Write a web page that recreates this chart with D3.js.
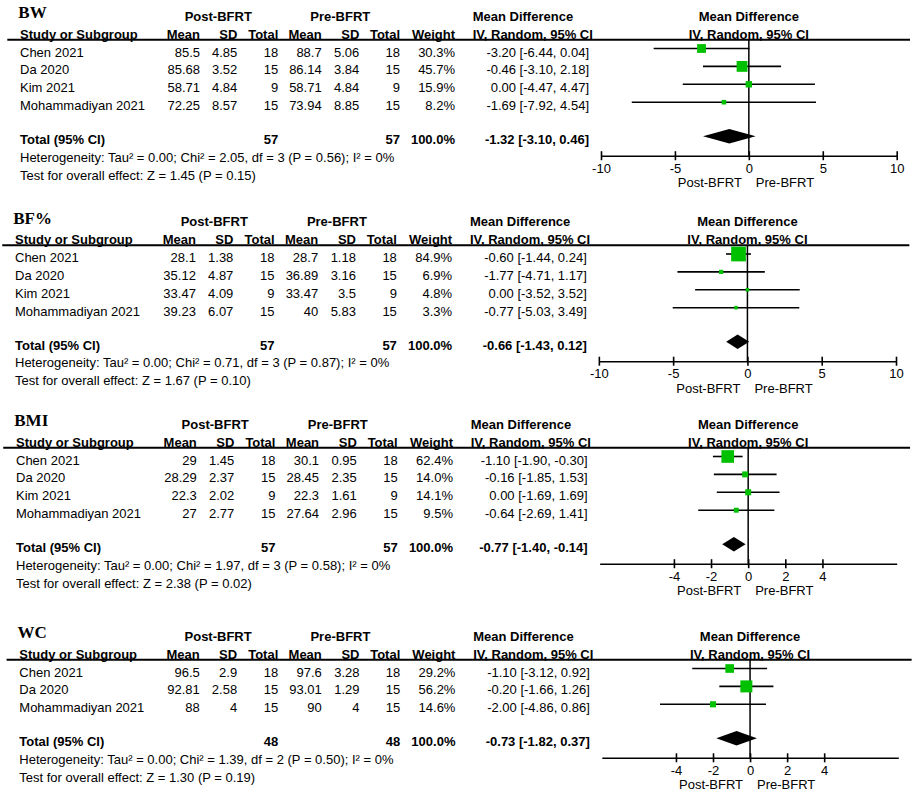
<!DOCTYPE html>
<html>
<head>
<meta charset="utf-8">
<script src="https://cdn.jsdelivr.net/npm/d3@7"></script>
<style>
body { margin: 0; background: #fff; }
text { font-family: "Liberation Sans", Arial, sans-serif; font-size: 13px; fill: #000; }
.title { font-family: "Liberation Serif", "Times New Roman", serif; font-size: 17px; font-weight: bold; }
.b { font-weight: bold; }
</style>
</head>
<body>
<svg width="913" height="792"></svg>
<script>
// BW
var bwStudy = ["Chen 2021", "Da 2020", "Kim 2021", "Mohammadiyan 2021"];
var bwPostMean = [85.5, 85.68, 58.71, 72.25];
var bwPostSD = [4.85, 3.52, 4.84, 8.57];
var bwPostN = [18, 15, 9, 15];
var bwPreMean = [88.7, 86.14, 58.71, 73.94];
var bwPreSD = [5.06, 3.84, 4.84, 8.85];
var bwPreN = [18, 15, 9, 15];
var bwWeight = [30.3, 45.7, 15.9, 8.2];
var bwMD = [-3.20, -0.46, 0.00, -1.69];
var bwLo = [-6.44, -3.10, -4.47, -7.92];
var bwHi = [0.04, 2.18, 4.47, 4.54];
var bwTotal = [-1.32, -3.10, 0.46];

// BF%
var bfStudy = ["Chen 2021", "Da 2020", "Kim 2021", "Mohammadiyan 2021"];
var bfPostMean = [28.1, 35.12, 33.47, 39.23];
var bfPostSD = [1.38, 4.87, 4.09, 6.07];
var bfPostN = [18, 15, 9, 15];
var bfPreMean = [28.7, 36.89, 33.47, 40];
var bfPreSD = [1.18, 3.16, 3.5, 5.83];
var bfPreN = [18, 15, 9, 15];
var bfWeight = [84.9, 6.9, 4.8, 3.3];
var bfMD = [-0.60, -1.77, 0.00, -0.77];
var bfLo = [-1.44, -4.71, -3.52, -5.03];
var bfHi = [0.24, 1.17, 3.52, 3.49];
var bfTotal = [-0.66, -1.43, 0.12];

// BMI
var bmiStudy = ["Chen 2021", "Da 2020", "Kim 2021", "Mohammadiyan 2021"];
var bmiPostMean = [29, 28.29, 22.3, 27];
var bmiPostSD = [1.45, 2.37, 2.02, 2.77];
var bmiPostN = [18, 15, 9, 15];
var bmiPreMean = [30.1, 28.45, 22.3, 27.64];
var bmiPreSD = [0.95, 2.35, 1.61, 2.96];
var bmiPreN = [18, 15, 9, 15];
var bmiWeight = [62.4, 14.0, 14.1, 9.5];
var bmiMD = [-1.10, -0.16, 0.00, -0.64];
var bmiLo = [-1.90, -1.85, -1.69, -2.69];
var bmiHi = [-0.30, 1.53, 1.69, 1.41];
var bmiTotal = [-0.77, -1.40, -0.14];

// WC
var wcStudy = ["Chen 2021", "Da 2020", "Mohammadiyan 2021"];
var wcPostMean = [96.5, 92.81, 88];
var wcPostSD = [2.9, 2.58, 4];
var wcPostN = [18, 15, 15];
var wcPreMean = [97.6, 93.01, 90];
var wcPreSD = [3.28, 1.29, 4];
var wcPreN = [18, 15, 15];
var wcWeight = [29.2, 56.2, 14.6];
var wcMD = [-1.10, -0.20, -2.00];
var wcLo = [-3.12, -1.66, -4.86];
var wcHi = [0.92, 1.26, 0.86];
var wcTotal = [-0.73, -1.82, 0.37];

var titles = ["BW", "BF%", "BMI", "WC"];
var totalN = [57, 57, 57, 48];
var hetText = [
  "Heterogeneity: Tau² = 0.00; Chi² = 2.05, df = 3 (P = 0.56); I² = 0%",
  "Heterogeneity: Tau² = 0.00; Chi² = 0.71, df = 3 (P = 0.87); I² = 0%",
  "Heterogeneity: Tau² = 0.00; Chi² = 1.97, df = 3 (P = 0.58); I² = 0%",
  "Heterogeneity: Tau² = 0.00; Chi² = 1.39, df = 2 (P = 0.50); I² = 0%"
];
var testText = [
  "Test for overall effect: Z = 1.45 (P = 0.15)",
  "Test for overall effect: Z = 1.67 (P = 0.10)",
  "Test for overall effect: Z = 2.38 (P = 0.02)",
  "Test for overall effect: Z = 1.30 (P = 0.19)"
];
var axisDomains = [[-10, 10], [-10, 10], [-8, 8], [-8, 8]];
var axisTicks = [[-10, -5, 0, 5, 10], [-10, -5, 0, 5, 10], [-4, -2, 0, 2, 4], [-4, -2, 0, 2, 4]];

var panels = [
  {study: bwStudy, postMean: bwPostMean, postSD: bwPostSD, postN: bwPostN, preMean: bwPreMean, preSD: bwPreSD, preN: bwPreN,
   weight: bwWeight, md: bwMD, lo: bwLo, hi: bwHi, total: bwTotal, x0: 20, x1: 896.7, dy: 0},
  {study: bfStudy, postMean: bfPostMean, postSD: bfPostSD, postN: bfPostN, preMean: bfPreMean, preSD: bfPreSD, preN: bfPreN,
   weight: bfWeight, md: bfMD, lo: bfLo, hi: bfHi, total: bfTotal, x0: 15, x1: 896, dy: 205.5},
  {study: bmiStudy, postMean: bmiPostMean, postSD: bmiPostSD, postN: bmiPostN, preMean: bmiPreMean, preSD: bmiPreSD, preN: bmiPreN,
   weight: bmiWeight, md: bmiMD, lo: bmiLo, hi: bmiHi, total: bmiTotal, x0: 16, x1: 896.7, dy: 408},
  {study: wcStudy, postMean: wcPostMean, postSD: wcPostSD, postN: wcPostN, preMean: wcPreMean, preSD: wcPreSD, preN: wcPreN,
   weight: wcWeight, md: wcMD, lo: wcLo, hi: wcHi, total: wcTotal, x0: 19.3, x1: 898.3, dy: 620}
];

var svg = d3.select("svg");
svg.append("rect").attr("width", 913).attr("height", 792).attr("fill", "#fff");

var size = d3.scaleSqrt().domain([0, 100]).range([0, 16]);

var drawPanel = function(p, k)
{
  var s = (p.x1 - p.x0) / (896.7 - 20);
  var X = function(x) { return p.x0 + (x - 20) * s; };
  var g = svg.append("g").attr("transform", "translate(0," + p.dy + ")");
  var n = p.study.length;
  var markY = function(i) { return 48.5 + i * 17.9; };
  var textY = function(i) { return markY(i) + 8; };
  var totIdx = n + 0.9;
  var axisY = markY(totIdx) + 19.5;
  var xs = d3.scaleLinear().domain(axisDomains[k]).range([X(601), X(896.7)]);

  var txt = function(str, x, y, anchor, cls)
  {
    g.append("text").attr("x", x).attr("y", y)
      .attr("text-anchor", anchor || "start")
      .attr("class", cls || null)
      .text(str);
  };

  // headers
  txt(titles[k], X(18.3), 18.3, "start", "title");
  txt("Post-BFRT", X(218.3), 20.5, "middle", "b");
  txt("Pre-BFRT", X(340.3), 20.5, "middle", "b");
  txt("Mean Difference", X(472.7), 20.5, "start", "b");
  txt("Mean Difference", xs(0), 20.5, "middle", "b");

  var cols = [
    {x: 200, head: "Mean", vals: p.postMean},
    {x: 237.3, head: "SD", vals: p.postSD},
    {x: 278.3, head: "Total", vals: p.postN},
    {x: 321.7, head: "Mean", vals: p.preMean},
    {x: 359.3, head: "SD", vals: p.preSD},
    {x: 400, head: "Total", vals: p.preN},
    {x: 455, head: "Weight", vals: p.weight.map(function(d){ return d.toFixed(1) + "%"; })},
    {x: 589, head: null, vals: p.md.map(function(d, i){
      return d.toFixed(2) + " [" + p.lo[i].toFixed(2) + ", " + p.hi[i].toFixed(2) + "]"; })}
  ];

  txt("Study or Subgroup", X(20), 38.5, "start", "b");
  cols.forEach(function(c)
  {
    if (c.head) txt(c.head, X(c.x), 38.5, "end", "b");
  });
  txt("IV, Random, 95% CI", X(472.7), 38.5, "start", "b");
  txt("IV, Random, 95% CI", xs(0), 38.5, "middle", "b");

  g.append("line")
    .attr("x1", X(7.3)).attr("x2", X(910))
    .attr("y1", 39.8).attr("y2", 39.8)
    .attr("stroke", "#000").attr("stroke-width", 2);

  // study rows
  p.study.forEach(function(name, i)
  {
    txt(name, X(20), textY(i));
    cols.forEach(function(c)
    {
      txt(String(c.vals[i]), X(c.x), textY(i), "end");
    });
  });

  // total rows
  var ty = textY(totIdx);
  txt("Total (95% CI)", X(20), ty, "start", "b");
  txt(String(totalN[k]), X(278.3), ty, "end", "b");
  txt(String(totalN[k]), X(400), ty, "end", "b");
  txt("100.0%", X(455), ty, "end", "b");
  txt(p.total[0].toFixed(2) + " [" + p.total[1].toFixed(2) + ", " + p.total[2].toFixed(2) + "]", X(589), ty, "end", "b");
  txt(hetText[k], X(20), ty + 17.5);
  txt(testText[k], X(20), ty + 35.5);

  // zero line
  g.append("line")
    .attr("x1", xs(0)).attr("x2", xs(0))
    .attr("y1", 39.8).attr("y2", axisY)
    .attr("stroke", "#000").attr("stroke-width", 1.5);

  // CI lines
  g.selectAll(".ci")
    .data(p.md)
    .enter()
    .append("line")
    .attr("class", "ci")
    .attr("x1", function(d, i){ return xs(p.lo[i]); })
    .attr("x2", function(d, i){ return xs(p.hi[i]); })
    .attr("y1", function(d, i){ return markY(i); })
    .attr("y2", function(d, i){ return markY(i); })
    .attr("stroke", "#000").attr("stroke-width", 1.6);

  // squares
  g.selectAll(".sq")
    .data(p.md)
    .enter()
    .append("rect")
    .attr("class", "sq")
    .attr("x", function(d, i){ return xs(d) - Math.max(3.5, size(p.weight[i])) / 2; })
    .attr("y", function(d, i){ return markY(i) - Math.max(3.5, size(p.weight[i])) / 2; })
    .attr("width", function(d, i){ return Math.max(3.5, size(p.weight[i])); })
    .attr("height", function(d, i){ return Math.max(3.5, size(p.weight[i])); })
    .attr("fill", "#00c000");

  // diamond
  var dyc = markY(totIdx);
  var dia = [[xs(p.total[1]), dyc], [xs(p.total[0]), dyc - 7.3], [xs(p.total[2]), dyc], [xs(p.total[0]), dyc + 7.3]];
  g.append("path")
    .attr("d", "M" + dia.join("L") + "Z")
    .attr("fill", "#000");

  // axis
  var ax = g.append("g")
    .attr("transform", "translate(0," + axisY + ")")
    .call(d3.axisBottom(xs).tickValues(axisTicks[k]).tickSizeOuter(0)
      .tickFormat(function(d){ return String(d); }));
  ax.attr("font-size", null).attr("font-family", null);
  ax.select(".domain").attr("stroke-width", 1.6);
  ax.selectAll(".tick line").attr("y1", -4.5).attr("y2", 4.5).attr("stroke-width", 1.6);
  ax.selectAll(".tick text").attr("y", 16.8).attr("dy", null);

  txt("Post-BFRT", xs(0) - 7, axisY + 31.5, "end");
  txt("Pre-BFRT", xs(0) + 7, axisY + 31.5, "start");
};

panels.forEach(function(p, k){ drawPanel(p, k); });
</script>
</body>
</html>
